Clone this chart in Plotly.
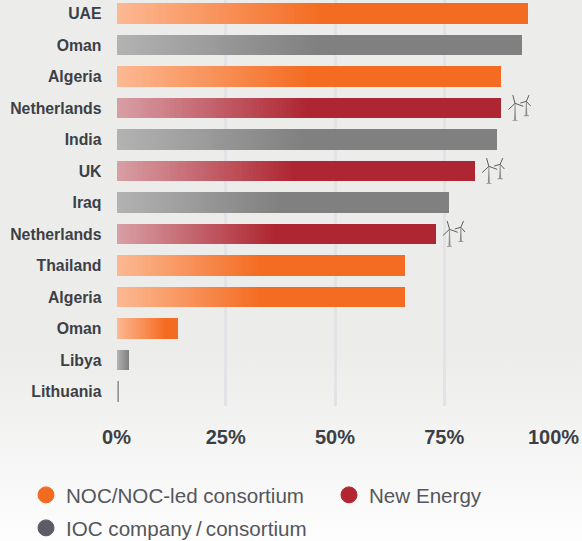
import base64
import plotly.graph_objects as go

categories = ["UAE", "Oman", "Algeria", "Netherlands", "India", "UK", "Iraq", "Netherlands",
              "Thailand", "Algeria", "Oman", "Libya", "Lithuania"]
values = [94.2, 92.7, 88, 88, 87, 82, 76, 73, 66, 66, 14, 2.8, 0.4]
groups = ["NOC", "IOC", "NOC", "NEW", "IOC", "NEW", "IOC", "NEW", "NOC", "NOC", "NOC", "IOC", "IOC"]
has_wind = [False, False, False, True, False, True, False, True, False, False, False, False, False]
x_ticks = [0, 25, 50, 75, 100]
x_labels = ["0%", "25%", "50%", "75%", "100%"]
fade_share = [0.5, 0.5, 0.5, 0.5, 0.5, 0.5, 0.5, 0.5, 0.5, 0.5, 0.8, 1, 1]
legend_names = {"NOC": "NOC/NOC-led consortium", "NEW": "New Energy", "IOC": "IOC company\u2009/\u2009consortium"}
legend_order = ["NOC", "NEW", "IOC"]
legend_colors = {"NOC": "#f36b21", "NEW": "#b22632", "IOC": "#5b5c66"}
legend_px = {"NOC": (26, 495), "NEW": (329, 495), "IOC": (26, 528)}
bar_start = {"NOC": (252, 184, 146), "NEW": (216, 158, 165), "IOC": (178, 178, 178)}
bar_end = {"NOC": (244, 108, 34), "NEW": (174, 38, 49), "IOC": (128, 128, 128)}

W, H = 582, 541
X0, X1 = 116.5, 553.5
PLOT_BOTTOM = 406
STEPS = 50
rows = list(range(len(categories)))
end_colors = ["rgb(%d,%d,%d)" % bar_end[g] for g in groups]

fig = go.Figure()
fig.add_trace(go.Bar(x=values, y=rows, orientation="h", width=0.65,
                     marker=dict(color=end_colors, line=dict(width=0)), showlegend=False))
for k in range(STEPS, 0, -1):
    t = (k - 1) / (STEPS - 1)
    cols = []
    for g in groups:
        a, b = bar_start[g], bar_end[g]
        cols.append("rgb(%d,%d,%d)" % tuple(round(a[c] + (b[c] - a[c]) * t) for c in range(3)))
    fig.add_trace(go.Bar(x=[v * s * k / STEPS for v, s in zip(values, fade_share)], y=rows,
                         orientation="h", width=0.65,
                         marker=dict(color=cols, line=dict(width=0)), showlegend=False, hoverinfo="skip"))

legends = {}
for n, g in enumerate(legend_order):
    key = "legend" if n == 0 else f"legend{n + 1}"
    fig.add_trace(go.Scatter(x=[None], y=[None], mode="markers", name=legend_names[g], legend=key,
                             marker=dict(color=legend_colors[g], size=16, symbol="circle",
                                         line=dict(color=legend_colors[g], width=1))))
    px, py = legend_px[g]
    legends[key] = dict(x=px / W, y=1 - py / H, xanchor="left", yanchor="middle",
                        bgcolor="rgba(0,0,0,0)", itemsizing="trace",
                        font=dict(size=20.6, family="Liberation Sans", color="#55565b"))


def tower(dx, base, hub):
    return (f"M{dx-1},{base} L{dx-0.4},{hub} L{dx+0.4},{hub} L{dx+1},{base} Z "
            f"M{dx-2.5},{base} L{dx+2.5},{base} L{dx+2.5},{base-0.8} L{dx-2.5},{base-0.8} Z ")


def blades(dx, hub, tips):
    return "".join(f"M{dx},{hub} L{dx+tx},{hub+ty} " for tx, ty in tips)


wind_shapes = []
for i, (v, w) in enumerate(zip(values, has_wind)):
    if w:
        base = dict(type="path", xref="x", yref="y", xsizemode="pixel", ysizemode="pixel",
                    xanchor=v, yanchor=i, layer="above")
        wind_shapes.append(dict(base, path=tower(14, -12, 4.7) + tower(25.3, -7.3, 6.7),
                                line=dict(width=0), fillcolor="#8f8f8f"))
        wind_shapes.append(dict(base, path=blades(14, 4.7, [(-2.3, 8.3), (-6.7, -6.3), (8.3, -3)])
                                + blades(25.3, 6.7, [(2.7, 6.3), (-6, -1.7), (4.3, -4.7)]),
                                line=dict(color="#5f5f5f", width=1)))

svg = (f'<svg xmlns="http://www.w3.org/2000/svg" width="{W}" height="{H}" preserveAspectRatio="none">'
       '<defs><linearGradient id="g" x1="0" y1="0" x2="0" y2="1">'
       '<stop offset="0" stop-color="#ececeb"/><stop offset="0.65" stop-color="#ececeb"/>'
       '<stop offset="1" stop-color="#fdfdfd"/></linearGradient></defs>'
       f'<rect width="{W}" height="{H}" fill="url(#g)"/></svg>')
bg = "data:image/svg+xml;base64," + base64.b64encode(svg.encode()).decode()

fig.update_layout(
    width=W, height=H, autosize=False,
    margin=dict(l=0, r=0, t=0, b=0, autoexpand=False),
    paper_bgcolor="#ececeb", plot_bgcolor="rgba(0,0,0,0)",
    barmode="overlay", shapes=wind_shapes,
    images=[dict(source=bg, xref="paper", yref="paper", x=0, y=1, sizex=1, sizey=1,
                 xanchor="left", yanchor="top", sizing="stretch", layer="below")],
    font=dict(family="Liberation Sans", color="#3d3f46"),
    xaxis=dict(domain=[X0 / W, X1 / W], range=[0, 100], tickvals=x_ticks, ticktext=x_labels,
               showgrid=True, gridcolor="#e3e3e7", gridwidth=3, zeroline=False, showline=False,
               ticks="", ticklabelstandoff=17, tickfont=dict(size=20, family="Liberation Sans", weight="bold", color="#3d3f46")),
    yaxis=dict(domain=[1 - PLOT_BOTTOM / H, 1], range=[12.46, -0.43], tickvals=rows, ticktext=categories,
               showgrid=False, zeroline=False, showline=False, ticks="", ticklabelstandoff=14,
               tickfont=dict(size=15.8, family="Liberation Sans", weight="bold", color="#3d3f46")),
    hovermode=False,
    **legends,
)
fig.write_html("out.html", config=dict(displayModeBar=False),
               post_script="document.body.style.margin='0';document.body.style.overflow='hidden';"
                           "var s=document.createElement('style');"
                           "s.textContent='.barlayer path{shape-rendering:crispEdges !important;}';"
                           "document.head.appendChild(s);")
